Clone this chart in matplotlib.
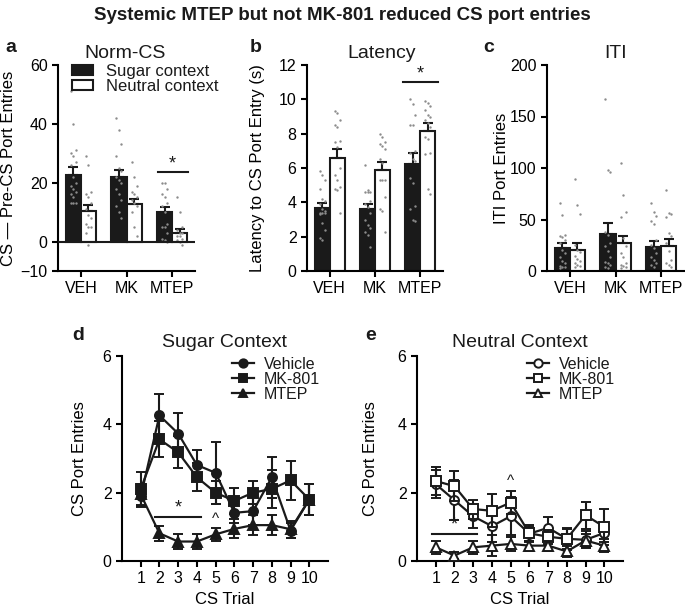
import matplotlib
matplotlib.use('Agg')
import matplotlib.pyplot as plt
import numpy as np
from matplotlib.lines import Line2D
from matplotlib.patches import Patch

plt.rcParams['font.family'] = ['Liberation Sans', 'DejaVu Sans']
plt.rcParams['axes.linewidth'] = 1.5
plt.rcParams['xtick.major.width'] = 1.5
plt.rcParams['ytick.major.width'] = 1.5
plt.rcParams['xtick.major.size'] = 4
plt.rcParams['ytick.major.size'] = 4
plt.rcParams['xtick.labelsize'] = 11.5
plt.rcParams['ytick.labelsize'] = 11.5
plt.rcParams['text.color'] = '#1a1a1a'

# ---------------- data ----------------
groups = ['VEH', 'MK', 'MTEP']

# panel a : Norm-CS
a_sugar = [22.7, 21.8, 10.1]
a_sugar_err = [2.6, 2.6, 1.7]
a_neut = [10.3, 12.8, 2.9]
a_neut_err = [2.0, 1.7, 1.4]
a_sugar_pts = [
    [51, 40, 31, 30, 29, 27, 26, 22, 20, 19, 18, 17, 16, 15, 13, 13, 13],
    [42, 38, 33, 29, 25, 24, 22, 21, 20, 18, 16, 14, 12, 10, 8],
    [20, 20, 18, 16, 15, 13, 12, 10, 6, 5, 5, 3, 1, 0.5, 0],
]
a_neut_pts = [
    [29, 26, 17, 16, 15, 13, 11, 9, 8, 6, 5, 5, 3, -1],
    [27, 22, 19, 17, 16, 15, 14, 13, 12, 10, 5, 2],
    [15, 10, 5, 4, 3, 3, 2, 2, 1, 0.5, 0, -1],
]

# panel b : Latency
b_sugar = [3.65, 3.6, 6.23]
b_sugar_err = [0.33, 0.31, 0.62]
b_neut = [6.6, 5.88, 8.17]
b_neut_err = [0.49, 0.49, 0.43]
b_sugar_pts = [
    [5.8, 5.6, 5.3, 4.8, 4.2, 4.1, 3.9, 3.6, 3.5, 3.4, 3.4, 3.4, 3.3, 2.8, 2.4, 1.9, 1.8],
    [6.2, 4.7, 4.6, 4.6, 4.6, 4.1, 3.9, 3.7, 3.4, 3.0, 2.7, 2.5, 2.3, 2.1, 1.4],
    [10.0, 9.7, 9.1, 8.5, 8.5, 7.0, 6.9, 6.5, 6.4, 5.4, 5.1, 3.8, 3.6, 3.0, 2.9],
]
b_neut_pts = [
    [9.3, 9.2, 8.8, 8.5, 8.4, 7.6, 7.5, 7.2, 6.0, 5.6, 5.3, 4.9, 4.8, 4.7, 3.4],
    [8.0, 7.8, 7.5, 7.4, 7.3, 7.1, 6.5, 6.3, 5.3, 5.3, 5.3, 4.3, 3.6, 3.5, 2.3],
    [9.9, 9.8, 9.6, 9.4, 9.1, 9.0, 8.8, 8.6, 8.4, 7.8, 7.7, 6.9, 6.8, 4.8, 4.5],
]

# panel c : ITI
c_sugar = [22, 35.6, 23.6]
c_sugar_err = [5.0, 10.7, 5.8]
c_neut = [20.4, 26.9, 24.6]
c_neut_err = [6.5, 7.4, 6.0]
c_sugar_pts = [
    [66, 54, 35, 34, 33, 30, 27, 20, 17, 14, 10, 8, 5, 4, 4, 3],
    [167, 98, 96, 38, 35, 27, 24, 19, 14, 9, 8, 6, 4, 3],
    [66, 57, 53, 49, 46, 30, 25, 22, 17, 14, 11, 8, 6, 4],
]
c_neut_pts = [
    [89, 64, 55, 25, 20, 18, 15, 12, 10, 8, 6, 5, 4],
    [105, 74, 57, 52, 32, 24, 17, 14, 8, 6, 5, 4, 3],
    [79, 56, 55, 52, 37, 34, 27, 19, 11, 8, 6, 4],
]

# panels d / e : CS trials
trials = list(range(1, 11))
d_veh = [1.89, 4.26, 3.73, 2.81, 2.58, 1.41, 1.46, 2.45, 0.89, 1.80]
d_veh_err = [0.30, 0.64, 0.60, 0.44, 0.91, 0.29, 0.40, 0.60, 0.22, 0.45]
d_mk = [2.11, 3.56, 3.18, 2.45, 2.00, 1.76, 2.00, 2.11, 2.36, 1.80]
d_mk_err = [0.50, 0.53, 0.47, 0.41, 0.33, 0.38, 0.34, 0.55, 0.56, 0.46]
d_mtep = [1.95, 0.81, 0.57, 0.57, 0.78, 0.94, 1.05, 1.05, 0.93, 1.80]
d_mtep_err = [0.30, 0.22, 0.23, 0.22, 0.20, 0.28, 0.30, 0.30, 0.25, 0.45]

e_veh = [2.25, 1.78, 1.31, 1.02, 1.31, 0.80, 0.97, 0.65, 0.62, 0.82]
e_veh_err = [0.42, 0.58, 0.33, 0.45, 0.55, 0.20, 0.33, 0.30, 0.25, 0.25]
e_mk = [2.34, 2.19, 1.52, 1.47, 1.71, 0.81, 0.71, 0.65, 1.34, 1.00]
e_mk_err = [0.42, 0.43, 0.28, 0.48, 0.34, 0.25, 0.20, 0.33, 0.39, 0.52]
e_mtep = [0.40, 0.16, 0.40, 0.45, 0.50, 0.45, 0.45, 0.28, 0.60, 0.45]
e_mtep_err = [0.20, 0.10, 0.20, 0.30, 0.20, 0.15, 0.15, 0.15, 0.20, 0.20]

# ---------------- figure ----------------
W, H = 685, 608
fig = plt.figure(figsize=(W / 100, H / 100), dpi=100)

def rect(l, r, t, b):
    return [l / W, 1 - b / H, (r - l) / W, (b - t) / H]

ax_a = fig.add_axes(rect(58, 195, 65, 271))
ax_b = fig.add_axes(rect(307, 443, 65, 271))
ax_c = fig.add_axes(rect(547, 684, 65, 271))
ax_d = fig.add_axes(rect(122, 328, 356, 561))
ax_e = fig.add_axes(rect(417, 623, 356, 561))

bw = 0.33
dot_col = '#8c8c8c'


def jitter(n):
    return ((np.arange(n) % 3) - 1) * 0.055


def bar_panel(ax, sugar, se, neut, ne, spts, npts, ylim, yticks, ylabel, lab_x, title, title_x):
    x = np.arange(len(groups))
    ax.bar(x - bw / 2, sugar, bw, color='#1a1a1a', edgecolor='#1a1a1a', linewidth=1.5,
           yerr=[np.zeros(3), se], capsize=3.5,
           error_kw=dict(elinewidth=1.5, capthick=1.5, ecolor='#1a1a1a'), zorder=2)
    ax.bar(x + bw / 2, neut, bw, color='white', edgecolor='#1a1a1a', linewidth=1.5,
           yerr=[np.zeros(3), ne], capsize=3.5,
           error_kw=dict(elinewidth=1.5, capthick=1.5, ecolor='#1a1a1a'), zorder=2)
    for i in range(3):
        sp = np.array(spts[i]); npp = np.array(npts[i])
        ax.scatter(x[i] - bw / 2 + jitter(len(sp)), sp, s=3, color=dot_col, zorder=3, linewidths=0)
        ax.scatter(x[i] + bw / 2 + jitter(len(npp)), npp, s=3, color=dot_col, zorder=3, linewidths=0)
    ax.set_xlim(-0.5, 2.5)
    ax.set_ylim(*ylim)
    ax.set_yticks(yticks)
    ax.set_xticks(x)
    ax.set_xticklabels(groups)
    ax.spines['top'].set_visible(False)
    ax.spines['right'].set_visible(False)
    ax.set_ylabel(ylabel, fontsize=12)
    ax.yaxis.set_label_coords(lab_x, 0.5)
    ax.text(title_x, 1.058, title, transform=ax.transAxes, ha='center', va='center', fontsize=14)


bar_panel(ax_a, a_sugar, a_sugar_err, a_neut, a_neut_err, a_sugar_pts, a_neut_pts,
          (-10, 60), [-10, 0, 20, 40, 60], 'CS \u2014 Pre-CS Port Entries', -0.31, 'Norm-CS', 0.49)
ax_a.axhline(0, color='#1a1a1a', lw=1.5, zorder=4)
ax_a.plot([1.69, 2.34], [23.5, 23.5], color='#1a1a1a', lw=1.5)
ax_a.text(2.0, 23.5, '*', ha='center', va='bottom', fontsize=13)
leg_a = ax_a.legend(handles=[Patch(facecolor='#1a1a1a', edgecolor='#1a1a1a', lw=1.5, label='Sugar context'),
                             Patch(facecolor='white', edgecolor='#1a1a1a', lw=1.5, label='Neutral context')],
                    loc='upper left', bbox_to_anchor=(0.04, 1.045), frameon=False, fontsize=12,
                    handlelength=1.3, handleheight=0.55, handletextpad=0.75, labelspacing=0.0, borderpad=0)

bar_panel(ax_b, b_sugar, b_sugar_err, b_neut, b_neut_err, b_sugar_pts, b_neut_pts,
          (0, 12), [0, 2, 4, 6, 8, 10, 12], 'Latency to CS Port Entry (s)', -0.31, 'Latency', 0.55)
ax_b.plot([1.62, 2.4], [11.0, 11.0], color='#1a1a1a', lw=1.5)
ax_b.text(2.0, 11.0, '*', ha='center', va='bottom', fontsize=13)

bar_panel(ax_c, c_sugar, c_sugar_err, c_neut, c_neut_err, c_sugar_pts, c_neut_pts,
          (0, 200), [0, 50, 100, 150, 200], 'ITI Port Entries', -0.28, 'ITI', 0.5)


def line_panel(ax, series, errs, markers, filled, title, lab_x):
    labels = ['Vehicle', 'MK-801', 'MTEP']
    handles = []
    order = [2, 1, 0]
    for k in order:
        fc = '#1a1a1a' if filled else 'white'
        ax.errorbar(trials, series[k], yerr=errs[k], color='#1a1a1a', lw=1.6,
                    marker=markers[k], ms=6.5, mfc=fc, mec='#1a1a1a', mew=1.4,
                    capsize=3.5, capthick=1.5, elinewidth=1.5, zorder=3 + k)
    for k in range(3):
        fc = '#1a1a1a' if filled else 'white'
        handles.append(Line2D([], [], color='#1a1a1a', lw=1.6, marker=markers[k], ms=6,
                              mfc=fc, mec='#1a1a1a', mew=1.4, label=labels[k]))
    ax.set_xlim(0, 11)
    ax.set_ylim(0, 6)
    ax.set_yticks([0, 2, 4, 6])
    ax.set_xticks(trials)
    ax.spines['top'].set_visible(False)
    ax.spines['right'].set_visible(False)
    ax.set_ylabel('CS Port Entries', fontsize=12)
    ax.yaxis.set_label_coords(lab_x, 0.5)
    ax.set_xlabel('CS Trial', fontsize=12, labelpad=4)
    ax.text(0.5, 1.068, title, transform=ax.transAxes, ha='center', va='center', fontsize=14)
    ax.legend(handles=handles, loc='upper right', bbox_to_anchor=(1.0, 1.035), frameon=False,
              fontsize=11.5, handlelength=1.4, handletextpad=0.6, labelspacing=0.0, borderpad=0)


line_panel(ax_d, [d_veh, d_mk, d_mtep], [d_veh_err, d_mk_err, d_mtep_err],
           ['o', 's', '^'], True, 'Sugar Context', -0.17)
ax_d.plot([1.75, 4.2], [1.29, 1.29], color='#1a1a1a', lw=1.5)
ax_d.text(3.0, 1.29, '*', ha='center', va='bottom', fontsize=13)
ax_d.text(5.0, 1.22, '^', ha='center', va='center', fontsize=11)

line_panel(ax_e, [e_veh, e_mk, e_mtep], [e_veh_err, e_mk_err, e_mtep_err],
           ['o', 's', '^'], False, 'Neutral Context', -0.19)
ax_e.plot([0.8, 3.2], [0.78, 0.78], color='#1a1a1a', lw=1.5)
ax_e.text(2.0, 0.8, '*', ha='center', va='bottom', fontsize=13)
ax_e.text(5.0, 2.34, '^', ha='center', va='center', fontsize=11)

# panel letters and title
for lab, px, py in [('a', 5, 47), ('b', 250, 47), ('c', 483, 47), ('d', 72, 335), ('e', 365, 335)]:
    fig.text(px / W, 1 - py / H, lab, fontsize=14, fontweight='bold', ha='left', va='center')
fig.text(0.5, 1 - 15 / H, 'Systemic MTEP but not MK-801 reduced CS port entries',
         fontsize=13.5, fontweight='bold', ha='center', va='center')

fig.savefig('out.png', dpi=100)
